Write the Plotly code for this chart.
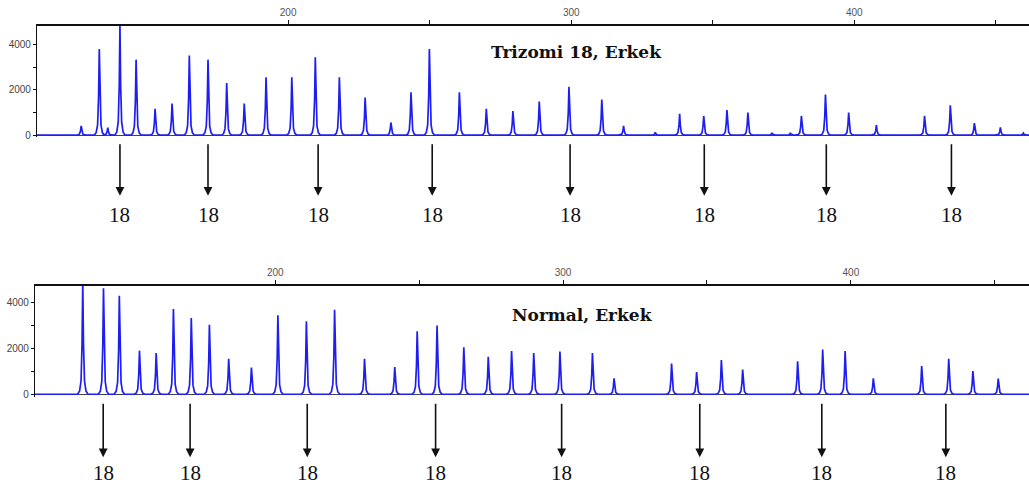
import plotly.graph_objects as go

# ---------------- data ----------------
# Top panel: Trizomi 18, Erkek  (peak size in bp, peak height in RFU)
tri_pos = [126.9, 133.3, 136.3, 140.6, 146.3, 153.0, 159.0, 165.1, 171.7, 178.3,
           184.5, 192.2, 201.3, 209.6, 218.1, 227.2, 236.3, 243.4, 249.9, 260.5,
           270.0, 279.4, 288.7, 299.2, 310.8, 318.5, 329.7, 338.3, 346.8, 355.0,
           362.4, 370.9, 377.4, 381.3, 389.8, 398.0, 407.8, 424.8, 433.9, 442.4,
           451.6, 459.7]
tri_h = [410, 3810, 330, 4900, 3340, 1170, 1400, 3520, 3340, 2310,
         1400, 2560, 2560, 3440, 2560, 1660, 560, 1900, 3810, 1900,
         1170, 1070, 1490, 2140, 1580, 410, 120, 950, 850, 1110,
         1000, 100, 100, 850, 1800, 1000, 440, 850, 1320, 530,
         340, 90]
tri_arrows = [140.6, 171.7, 210.6, 250.9, 299.6, 347.0, 390.1, 434.3]

# Bottom panel: Normal, Erkek
nor_pos = [133.1, 140.3, 145.8, 152.8, 158.6, 164.6, 170.8, 177.1, 183.8, 191.7,
           200.9, 210.8, 220.6, 231.0, 241.5, 249.3, 256.2, 265.5, 274.0, 282.1,
           289.8, 298.9, 310.2, 317.7, 337.7, 346.4, 355.0, 362.4, 381.5, 390.2,
           398.0, 407.8, 424.6, 434.0, 442.4, 451.2]
nor_h = [4900, 4620, 4290, 1900, 1800, 3710, 3320, 3030, 1550, 1160,
         3440, 3180, 3680, 1550, 1190, 2740, 2990, 2050, 1630, 1880,
         1800, 1860, 1800, 690, 1340, 970, 1490, 1080, 1440, 1950,
         1880, 690, 1230, 1550, 1010, 680]
nor_arrows = [140.2, 170.4, 211.1, 255.7, 299.5, 347.5, 389.9, 433.0]

arrow_label = "18"
titles = ["Trizomi 18, Erkek", "Normal, Erkek"]
x_tickvals = [200, 250, 300, 350, 400, 450]
x_ticktext = ["200", "", "300", "", "400", ""]
y_tickvals = [0, 1000, 2000, 3000, 4000]
y_ticktext = ["0", "", "2000", "", "4000"]

# ---------------- style ----------------
W, H = 1029, 492
PEAK_DX = [-1.8, -1.1, -0.6, -0.25, 0.0, 0.25, 0.6, 1.1, 1.8]   # peak shape (style)
PEAK_FR = [0.0, 0.03, 0.12, 0.45, 1.0, 0.45, 0.12, 0.03, 0.0]
BLUE = "#1e1ef0"


def trace_xy(pos, h, x0, x1):
    xs, ys = [x0], [0]
    for p, v in sorted(zip(pos, h)):
        for dx, fr in zip(PEAK_DX, PEAK_FR):
            xs.append(p + dx)
            ys.append(v * fr)
    xs.append(x1)
    ys.append(0)
    return xs, ys


def py(px):
    return 1 - px / H


panels = [
    dict(pos=tri_pos, h=tri_h, arrows=tri_arrows, title=titles[0],
         xl=37, xr=[111.3, 461.7], yt=26, yb=138, yr=[-88, 4835],
         title_xy=(576, 52), tail=144, head=197, lab=216),
    dict(pos=nor_pos, h=nor_h, arrows=nor_arrows, title=titles[1],
         xl=35, xr=[116.5, 461.9], yt=287.3, yb=399, yr=[-100, 4736],
         title_xy=(582, 317), tail=405, head=460, lab=476),
]

fig = go.Figure()
annotations = []
for i, p in enumerate(panels):
    sfx = "" if i == 0 else str(i + 1)
    xs, ys = trace_xy(p["pos"], p["h"], p["xr"][0], p["xr"][1])
    fig.add_trace(go.Scatter(x=xs, y=ys, mode="lines",
                             line=dict(color=BLUE, width=1.7),
                             xaxis="x" + sfx, yaxis="y" + sfx,
                             hoverinfo="skip", showlegend=False))
    fig.layout["xaxis" + sfx] = dict(
        domain=[p["xl"] / W, 1], range=p["xr"], side="top", anchor="y" + sfx,
        showline=True, linecolor="#111", linewidth=1.5, mirror=False,
        ticks="outside", ticklen=4, tickcolor="#111",
        tickvals=x_tickvals, ticktext=x_ticktext,
        tickfont=dict(family="Arial, Liberation Sans", size=10, color="#555"),
        showgrid=False, zeroline=False, fixedrange=True)
    fig.layout["yaxis" + sfx] = dict(
        domain=[py(p["yb"]), py(p["yt"])], range=p["yr"], anchor="x" + sfx,
        showline=True, linecolor="#111", linewidth=1.2,
        ticks="outside", ticklen=3, tickcolor="#111",
        tickvals=y_tickvals, ticktext=y_ticktext,
        tickfont=dict(family="Arial, Liberation Sans", size=10, color="#444"),
        showgrid=False, zeroline=True, zerolinecolor="#444", zerolinewidth=1,
        fixedrange=True)
    annotations.append(dict(
        text="<b>%s</b>" % p["title"], xref="paper", yref="paper",
        x=p["title_xy"][0] / W, y=py(p["title_xy"][1]),
        xanchor="center", yanchor="middle", showarrow=False,
        font=dict(family="DejaVu Serif", size=17, color="#111")))
    for a in p["arrows"]:
        annotations.append(dict(
            text="", x=a, y=py(p["head"]), xref="x" + sfx, yref="paper",
            showarrow=True, ax=0, ay=-(p["head"] - p["tail"]),
            arrowhead=2, arrowsize=1.1, arrowwidth=1.6, arrowcolor="#111"))
        annotations.append(dict(
            text=arrow_label, x=a, y=py(p["lab"]), xref="x" + sfx, yref="paper",
            xanchor="center", yanchor="middle", showarrow=False,
            font=dict(family="Liberation Serif", size=21, color="#111")))

fig.update_layout(
    width=W, height=H, margin=dict(l=0, r=0, t=0, b=0),
    paper_bgcolor="white", plot_bgcolor="white",
    annotations=annotations, showlegend=False)

fig.write_html("out.html")
